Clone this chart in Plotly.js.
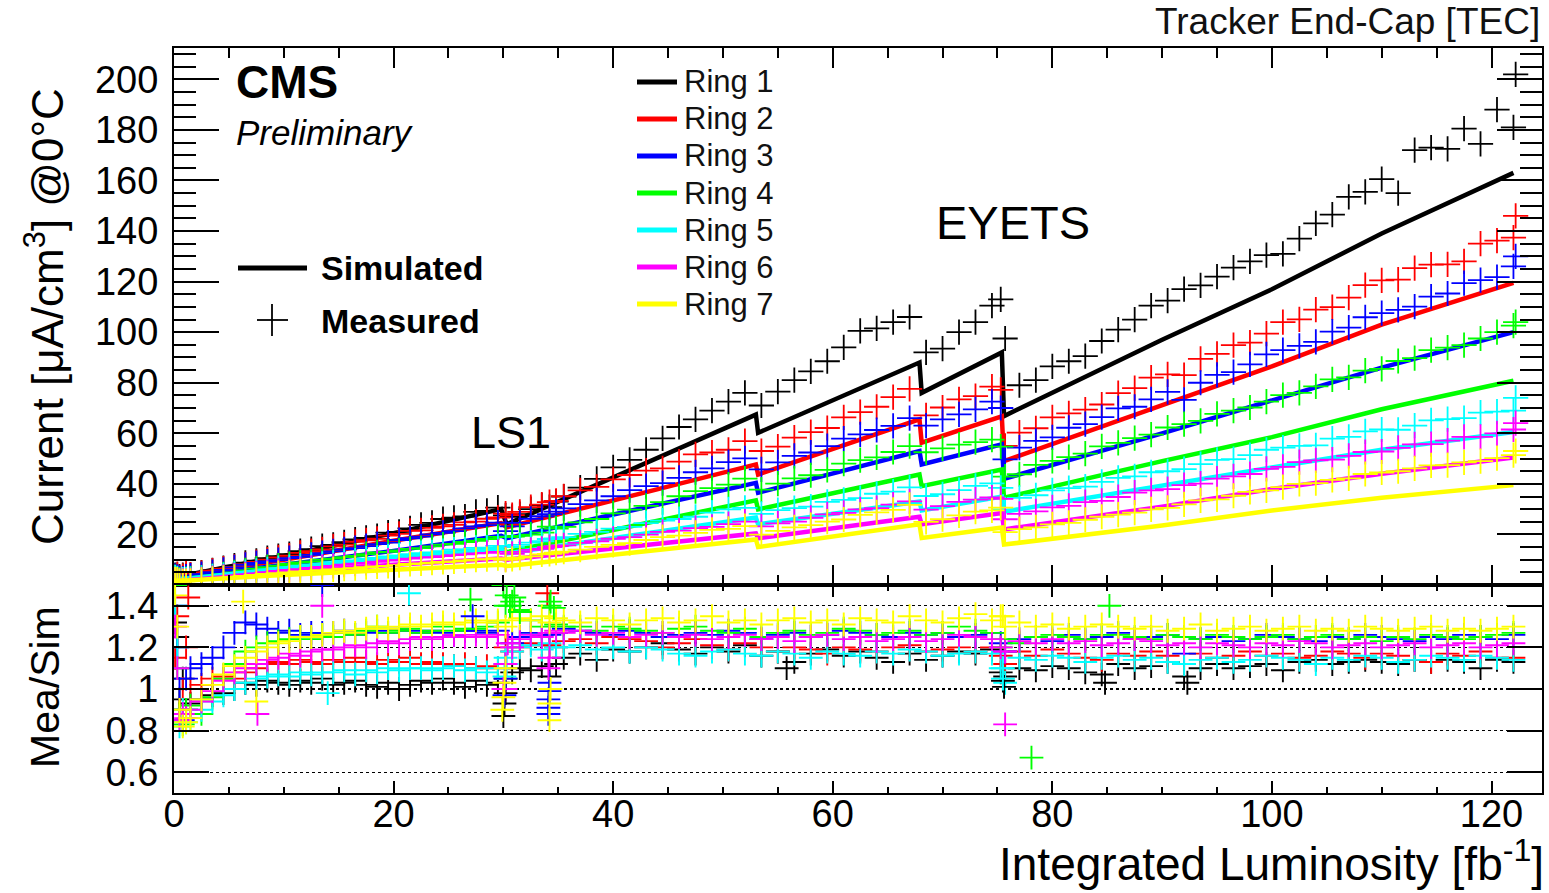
<!DOCTYPE html>
<html>
<head>
<meta charset="utf-8">
<script src="https://cdn.plot.ly/plotly-3.0.1.min.js"></script>
<style>html,body{margin:0;padding:0;background:#fff;}#chart{width:1549px;height:893px;}</style>
</head>
<body>
<div id="chart"></div>
<script>
// ---------------- data ----------------
const ringNames = ['Ring 1','Ring 2','Ring 3','Ring 4','Ring 5','Ring 6','Ring 7'];
const ringColors = ['#000000','#ff0000','#0000ff','#00ff00','#00ffff','#ff00ff','#ffff00'];

const lumiTicks = [0,20,40,60,80,100,120];
const currentTicks = [20,40,60,80,100,120,140,160,180,200];
const ratioTicks = [0.6,0.8,1,1.2,1.4];
const ratioTickText = ['0.6','0.8','1','1.2','1.4'];

// simulated leakage current (lines)
const simLumi  = [0, 10, 20, 29.8, 30.3, 53.0, 53.2, 67.9, 68.1, 75.4, 75.6, 90, 100, 110, 122];
const simRing1 = [3, 11.5, 20.5, 30, 24, 67.4, 60.2, 88, 76, 92, 66.8, 97, 117, 139, 163];
const simRing2 = [3, 10, 17.5, 24.5, 22.8, 47.7, 43.7, 65.5, 56.3, 66.7, 49, 71, 86.5, 103, 119.5];
const simRing3 = [2.5, 8, 13.5, 19.5, 18.5, 40.4, 36.5, 53, 47.7, 55.6, 42, 60, 73, 86, 100];
const simRing4 = [2, 6.5, 10.5, 14.5, 13, 33.5, 29.9, 43.7, 39.1, 45.7, 34.5, 49, 58.5, 69.5, 80.8];
const simRing5 = [2, 6.5, 10.5, 14.2, 12.5, 26.7, 24, 33, 29.5, 35, 29, 39.5, 46.5, 53.5, 60.5];
const simRing6 = [1.5, 5, 8, 10.5, 10, 20.4, 18.5, 27, 24, 28.5, 22, 31, 38, 44, 50.4];
const simRing7 = [1.5, 4, 6, 8, 7.5, 18, 15, 24, 18.6, 22.7, 16, 23.5, 29.5, 34.5, 39.5];

// measured points (crosses)
const meaLumi = [0.1,0.3,0.5,0.8,1.1,1.5,2.5,3.5,4.5,5.5,
 6.5,7.5,8.5,9.5,10.5,11.5,12.5,13.5,14.5,15.5,
 16.5,17.5,18.5,19.5,20.5,21.5,22.5,23.5,24.5,25.5,
 26.5,27.5,28.5,29.5,30.2,30.8,31.5,32.5,33.5,34.2,
 34.8,35.5,37,38.5,40,41.5,43,44.5,46,47.5,
 49,50.5,52,53.5,55,56.5,58,59.5,61,62.5,
 64,65.5,67,68.5,70,71.5,73,74.5,75.3,75.7,
 77,78.5,80,81.5,83,84.5,86,87.5,89,90.5,
 92,93.5,95,96.5,98,99.5,101,102.5,104,105.5,
 107,108.5,110,111.5,113,114.5,116,117.5,119,120.5,
 122];

const meaRing1 = [3.9,4.0,3.3,3.9,3.6,4.0,4.9,5.8,6.7,7.7,
 8.8,9.6,10.6,11.4,12.2,13.4,14.2,15.4,15.9,16.9,
 18.0,18.6,19.3,20.7,21.0,22.4,23.8,24.6,26.1,26.6,
 27.1,28.9,29.3,30.6,27.5,27.0,28.0,30.0,31.5,30.8,
 33.0,35.0,38.5,42.0,46.5,49.5,53.5,58.0,62.5,65.5,
 69.0,72.5,76.0,71.0,76.5,81.0,84.5,88.5,94.0,100.5,
 101.5,104.0,106.0,92.0,93.5,100.0,104.0,110.5,113.0,97.5,
 79.0,81.0,86.5,88.5,90.5,96.5,101.0,105.0,110.5,112.5,
 117.0,118.5,122.0,125.5,128.0,130.5,131.0,137.0,143.0,146.5,
 153.5,155.5,160.5,155.0,172.0,173.0,172.5,180.5,174.5,188.0,
 181.0];
const meaRing2 = [3.5,4.3,3.0,3.6,4.5,4.1,4.8,5.7,6.5,7.2,
 8.2,9.1,10.0,10.9,11.6,12.7,13.4,14.1,15.3,16.0,
 17.1,17.7,18.3,19.5,20.2,21.4,21.6,22.6,23.2,23.8,
 24.8,25.1,26.2,26.7,28.2,27.6,28.9,30.8,31.8,32.8,
 33.3,35.1,37.4,38.8,41.8,43.5,45.2,46.1,48.8,51.7,
 52.4,53.5,56.9,53.0,54.7,58.3,60.5,62.1,66.3,68.4,
 70.5,74.3,77.6,67.1,70.2,73.4,74.7,78.5,77.2,55.0,
 60.3,62.0,66.3,67.9,69.4,71.4,75.9,77.9,82.0,83.3,
 83.0,89.4,91.4,94.9,95.9,99.4,104.0,105.1,108.9,109.9,
 113.7,118.6,120.5,120.8,125.3,126.7,126.8,128.0,135.0,136.2,
 137.4];
const meaRing3 = [3.6,3.2,2.8,2.5,3.3,3.7,4.3,5.1,6.0,7.0,
 8.0,8.7,9.3,9.8,10.6,11.1,11.9,12.6,13.3,14.1,
 14.6,15.4,16.2,16.8,17.8,18.5,19.1,20.0,20.6,21.3,
 22.4,23.2,23.7,24.7,21.3,23.2,24.6,26.2,27.2,28.0,
 29.0,30.3,32.0,33.5,35.1,37.5,39.1,40.3,42.4,44.6,
 46.1,48.6,50.1,45.7,48.5,51.1,52.4,54.9,57.9,59.6,
 61.3,62.9,66.0,63.0,65.5,67.5,69.5,72.5,70.0,49.7,
 54.3,57.0,58.4,62.2,63.6,66.4,69.9,70.5,73.4,76.4,
 73.2,80.0,83.1,84.2,87.3,91.2,92.9,94.6,96.2,100.2,
 101.8,105.9,107.5,108.8,110.1,114.1,115.3,119.4,120.6,121.8,
 126.0];
const meaRing4 = [3.1,2.4,2.0,2.0,2.3,2.5,2.8,3.4,4.2,5.0,
 5.8,6.5,7.1,7.7,8.3,8.9,9.3,10.0,10.4,11.0,
 11.5,12.2,12.9,13.1,13.7,14.3,14.6,15.3,16.0,16.3,
 17.0,17.5,18.2,19.0,18.9,19.1,19.4,19.9,20.7,23.1,
 22.3,23.0,24.8,26.1,28.3,29.8,31.3,32.8,35.1,37.1,
 38.3,39.7,42.1,37.7,40.1,42.2,43.4,45.5,48.0,49.4,
 50.5,52.6,54.9,52.5,54.0,55.5,56.5,57.5,54.7,42.9,
 43.8,47.5,49.1,50.6,52.0,54.8,56.2,58.1,59.5,62.3,
 63.6,64.9,67.7,69.0,70.2,72.5,75.1,76.0,78.6,81.3,
 82.1,84.8,85.5,88.6,89.7,92.9,93.9,94.9,97.5,100.0,
 102.6];
const meaRing5 = [2.9,2.6,1.8,2.1,2.1,2.3,2.8,3.4,3.9,4.5,
 5.1,5.6,6.2,6.7,7.1,7.7,8.0,8.4,9.0,9.5,
 9.7,10.4,10.7,11.3,11.7,12.2,12.6,12.9,13.4,14.0,
 14.1,14.7,14.8,15.5,15.0,15.1,15.9,16.8,17.3,18.2,
 18.4,18.9,20.2,21.0,22.3,23.0,24.5,25.5,26.1,27.0,
 28.6,29.9,30.5,28.1,29.6,30.4,31.0,32.9,33.7,34.4,
 36.1,36.9,38.6,35.2,35.9,37.5,39.2,40.2,38.4,29.9,
 34.5,35.5,37.4,38.3,38.9,40.8,42.4,43.0,44.6,45.0,
 45.8,47.8,49.5,49.8,51.4,53.5,54.3,55.0,55.2,57.9,
 58.6,60.8,61.5,61.4,63.0,65.1,65.6,66.0,68.2,68.6,
 69.0];
const meaRing6 = [2.0,1.8,1.4,1.6,1.6,1.8,2.2,2.7,3.2,3.7,
 4.2,4.6,5.1,5.6,6.0,6.3,6.8,7.2,7.6,8.0,
 8.4,8.7,9.2,9.7,9.9,10.4,10.8,11.0,11.4,11.8,
 12.1,12.5,12.7,13.1,10.2,12.3,13.1,13.9,14.3,15.0,
 15.4,15.7,16.7,17.3,18.3,18.9,19.9,21.0,21.5,22.5,
 23.0,24.1,25.1,23.2,24.4,25.1,26.6,27.9,28.5,29.9,
 30.4,31.8,33.1,29.8,31.2,32.9,33.8,34.6,34.1,26.0,
 28.1,29.1,30.7,31.3,32.8,33.3,34.8,36.5,37.4,37.9,
 39.5,40.1,42.1,43.0,43.9,45.9,46.7,48.6,49.3,49.6,
 51.1,52.6,52.8,54.2,55.6,55.7,57.1,58.6,58.6,60.0,
 61.5];
const meaRing7 = [2.2,2.1,1.5,1.4,1.5,1.6,2.0,2.4,2.8,3.2,
 3.6,4.0,4.4,4.7,5.0,5.4,5.6,5.9,6.2,6.5,
 6.7,7.1,7.4,7.6,7.9,8.3,8.5,8.8,9.1,9.3,
 9.7,10.0,10.2,10.6,9.9,10.3,10.8,11.3,12.1,12.3,
 12.8,13.2,14.0,15.1,15.9,16.6,17.8,18.9,19.5,20.6,
 21.8,22.2,23.3,19.9,21.4,22.8,23.7,25.1,25.9,27.7,
 28.7,29.7,31.7,25.0,26.0,27.5,29.0,29.5,30.6,20.9,
 22.1,22.8,24.0,24.6,25.8,27.0,27.8,28.6,29.9,30.5,
 31.9,33.5,33.9,35.3,36.8,37.4,38.7,40.0,40.3,41.6,
 42.2,43.9,44.5,45.0,46.1,47.3,47.4,48.5,49.0,50.2,
 51.4];

// last, highest measured point of each ring
const topExtraLumi = 122.2;
const topExtraRing = [202, 146, 130, 104, 74, 64, 53];

// ratio measured / simulated
const ratioRing1 = [1.32,1.25,0.95,1.05,0.90,0.93,0.95,0.97,0.98,1.00,
 1.03,1.02,1.04,1.03,1.02,1.04,1.03,1.05,1.02,1.03,
 1.04,1.02,1.01,1.03,1.00,1.02,1.04,1.03,1.05,1.03,
 1.01,1.04,1.02,1.03,1.05,1.08,1.10,1.09,1.11,1.06,
 1.12,1.15,1.17,1.14,1.19,1.18,1.20,1.22,1.19,1.17,
 1.20,1.18,1.21,1.16,1.18,1.13,1.17,1.19,1.16,1.18,
 1.15,1.13,1.17,1.14,1.16,1.18,1.17,1.19,1.08,1.06,
 1.10,1.09,1.11,1.10,1.08,1.07,1.12,1.10,1.11,1.13,
 1.06,1.10,1.12,1.10,1.11,1.12,1.09,1.13,1.14,1.12,
 1.13,1.14,1.13,1.12,1.14,1.13,1.14,1.13,1.10,1.14,
 1.13];
const ratioRing2 = [1.15,1.35,0.90,1.00,1.20,1.00,1.02,1.05,1.06,1.05,
 1.08,1.10,1.12,1.13,1.12,1.14,1.13,1.12,1.14,1.13,
 1.15,1.13,1.12,1.14,1.13,1.15,1.12,1.13,1.12,1.11,
 1.12,1.10,1.11,1.10,1.20,1.18,1.20,1.22,1.21,1.21,
 1.20,1.23,1.24,1.22,1.25,1.24,1.23,1.20,1.22,1.24,
 1.21,1.19,1.22,1.20,1.18,1.20,1.19,1.17,1.20,1.19,
 1.18,1.20,1.21,1.18,1.19,1.20,1.18,1.20,1.16,1.12,
 1.18,1.16,1.19,1.17,1.15,1.14,1.17,1.16,1.18,1.16,
 1.12,1.17,1.15,1.16,1.18,1.16,1.17,1.15,1.16,1.18,
 1.17,1.15,1.17,1.16,1.14,1.13,1.17,1.16,1.18,1.15,
 1.15];
const ratioRing3 = [1.40,1.20,1.00,0.85,1.05,1.10,1.12,1.15,1.20,1.27,
 1.32,1.31,1.29,1.27,1.28,1.26,1.27,1.27,1.27,1.28,
 1.26,1.27,1.28,1.27,1.29,1.28,1.27,1.28,1.27,1.26,
 1.28,1.28,1.27,1.28,1.12,1.22,1.25,1.27,1.26,1.26,
 1.27,1.29,1.28,1.27,1.26,1.28,1.27,1.25,1.26,1.27,
 1.26,1.28,1.27,1.24,1.26,1.27,1.25,1.26,1.28,1.27,
 1.26,1.25,1.27,1.26,1.27,1.25,1.26,1.27,1.22,1.18,
 1.24,1.25,1.23,1.26,1.24,1.25,1.27,1.24,1.25,1.26,
 1.17,1.24,1.25,1.23,1.24,1.26,1.25,1.24,1.23,1.25,
 1.24,1.26,1.25,1.24,1.23,1.25,1.24,1.26,1.25,1.24,
 1.26];
const ratioRing4 = [1.50,1.10,0.88,0.83,0.90,0.92,0.88,0.96,1.05,1.12,
 1.18,1.20,1.22,1.23,1.24,1.25,1.24,1.26,1.25,1.27,
 1.26,1.28,1.30,1.27,1.28,1.29,1.27,1.28,1.30,1.28,
 1.29,1.29,1.30,1.32,1.40,1.42,1.38,1.33,1.30,1.40,
 1.31,1.30,1.30,1.28,1.30,1.29,1.28,1.27,1.29,1.30,
 1.28,1.27,1.29,1.25,1.27,1.28,1.26,1.27,1.29,1.28,
 1.26,1.27,1.28,1.26,1.27,1.30,1.28,1.27,1.20,1.24,
 1.22,1.25,1.26,1.25,1.24,1.26,1.26,1.25,1.24,1.26,
 1.25,1.24,1.26,1.25,1.24,1.25,1.26,1.24,1.25,1.26,
 1.24,1.25,1.23,1.25,1.24,1.26,1.25,1.24,1.25,1.26,
 1.27];
const ratioRing5 = [1.40,1.20,0.82,0.90,0.84,0.86,0.90,0.94,0.97,1.00,
 1.03,1.05,1.06,1.07,1.06,1.08,1.07,1.08,1.08,1.09,
 1.07,1.09,1.08,1.10,1.09,1.10,1.10,1.09,1.10,1.11,
 1.09,1.10,1.08,1.10,1.15,1.18,1.20,1.21,1.19,1.22,
 1.20,1.20,1.21,1.19,1.20,1.18,1.20,1.19,1.17,1.16,
 1.18,1.19,1.17,1.16,1.18,1.17,1.15,1.18,1.17,1.16,
 1.18,1.17,1.19,1.18,1.16,1.17,1.18,1.17,1.10,1.03,
 1.15,1.14,1.16,1.15,1.13,1.15,1.16,1.14,1.15,1.13,
 1.12,1.14,1.15,1.13,1.14,1.16,1.15,1.14,1.12,1.15,
 1.14,1.16,1.15,1.13,1.14,1.16,1.15,1.14,1.16,1.15,
 1.14];
const ratioRing6 = [1.30,1.10,0.85,0.88,0.86,0.90,0.94,0.99,1.04,1.08,
 1.10,1.12,1.14,1.15,1.17,1.16,1.18,1.19,1.19,1.20,
 1.21,1.20,1.22,1.23,1.22,1.24,1.25,1.24,1.25,1.26,
 1.25,1.26,1.25,1.26,1.00,1.20,1.24,1.26,1.25,1.27,
 1.28,1.27,1.28,1.26,1.27,1.25,1.26,1.27,1.25,1.26,
 1.24,1.25,1.26,1.24,1.25,1.23,1.25,1.26,1.24,1.25,
 1.23,1.24,1.25,1.23,1.24,1.26,1.25,1.24,1.20,1.18,
 1.23,1.22,1.24,1.22,1.23,1.21,1.22,1.24,1.23,1.21,
 1.22,1.20,1.22,1.21,1.20,1.22,1.21,1.23,1.22,1.20,
 1.21,1.22,1.20,1.21,1.22,1.20,1.21,1.22,1.20,1.21,
 1.22];
const ratioRing7 = [1.45,1.30,0.90,0.82,0.84,0.86,0.95,1.02,1.07,1.11,
 1.15,1.18,1.20,1.22,1.23,1.25,1.25,1.26,1.27,1.28,
 1.27,1.29,1.30,1.29,1.30,1.31,1.30,1.31,1.32,1.31,
 1.32,1.33,1.32,1.33,1.30,1.33,1.34,1.33,1.35,1.32,
 1.34,1.33,1.32,1.34,1.33,1.31,1.33,1.34,1.32,1.33,
 1.35,1.32,1.33,1.31,1.33,1.34,1.32,1.33,1.31,1.34,
 1.33,1.32,1.35,1.33,1.32,1.34,1.36,1.33,1.35,1.30,
 1.32,1.30,1.31,1.29,1.30,1.31,1.30,1.29,1.30,1.28,
 1.29,1.31,1.28,1.29,1.30,1.28,1.29,1.30,1.28,1.29,
 1.28,1.30,1.29,1.28,1.29,1.30,1.28,1.29,1.28,1.29,
 1.30];

// scattered ratio points (shutdown strips and outliers): ring number, luminosity, ratio
const outRing  = [1,1,1,1,1,1,1,1, 2,2, 3,3,3,3,3,3,3,3,3, 4,4,4,4,4,4,4,4,4,4, 5,5,5,5,5,5, 6,6,6,6,6,6,6,6, 7,7,7,7,7,7,7,7,7,7];
const outLumi  = [30.0,30.1,30.2,75.6,75.5,84.8,92.3,55.8, 1.3,34.0, 13.5,27.2,30.1,30.2,34.1,34.1,34.1,34.2,34.2,
                  27.0,30.0,30.3,30.6,31.0,31.5,34.3,34.6,78.1,85.2, 14.0,21.4,30.1,30.3,75.5,75.5,
                  7.6,13.5,30.0,30.2,30.4,34.1,34.2,75.7, 6.3,7.5,29.9,30.0,30.1,30.2,34.2,34.2,34.3,75.5];
const outRatio = [0.87,0.93,0.98,1.01,1.04,1.03,1.03,1.10, 1.44,1.46, 1.50,1.35,0.97,1.05,0.88,0.91,0.95,0.99,1.03,
                  1.43,1.50,1.45,1.40,1.44,1.37,1.42,1.39,0.67,1.40, 0.98,1.46,1.06,1.12,1.05,1.10,
                  0.88,1.40,1.00,1.12,1.22,1.10,1.15,0.83, 1.42,0.94,0.90,0.96,1.03,1.10,0.85,0.93,1.00,1.35];

// ---------------- drawing ----------------
const simRings = [simRing1,simRing2,simRing3,simRing4,simRing5,simRing6,simRing7];
const meaRings = [meaRing1,meaRing2,meaRing3,meaRing4,meaRing5,meaRing6,meaRing7];
const ratioRings = [ratioRing1,ratioRing2,ratioRing3,ratioRing4,ratioRing5,ratioRing6,ratioRing7];

const FONT = 'Liberation Sans, Arial, Helvetica, sans-serif';
const PL = 174, PR = 1542, PT = 48, PB = 793, SPLIT_PX = 585;
const px = p => (p - PL) / (PR - PL);
const py = p => (PB - p) / (PB - PT);
const split = py(SPLIT_PX);

const traces = [];
for (let i = 0; i < 7; i++) {
  traces.push({type:'scatter', mode:'lines', x: simLumi, y: simRings[i], xaxis:'x', yaxis:'y',
    line:{color: ringColors[i], width:4.5}, hoverinfo:'skip', showlegend:false});
  traces.push({type:'scatter', mode:'markers', x: meaLumi.concat([topExtraLumi]), y: meaRings[i].concat([topExtraRing[i]]),
    xaxis:'x', yaxis:'y', hoverinfo:'skip', showlegend:false,
    marker:{symbol:'cross-thin', size:18, color: ringColors[i], line:{color: ringColors[i], width:1.8}}});
}
for (let i = 0; i < 7; i++) {
  traces.push({type:'scatter', mode:'markers', x: meaLumi, y: ratioRings[i], xaxis:'x2', yaxis:'y2',
    hoverinfo:'skip', showlegend:false,
    marker:{symbol:'cross-thin', size:17, color: ringColors[i], line:{color: ringColors[i], width:1.9}}});
}
for (let i = 0; i < 7; i++) {
  const xs = [], ys = [];
  outRing.forEach((r, k) => { if (r === i + 1) { xs.push(outLumi[k]); ys.push(outRatio[k]); } });
  traces.push({type:'scatter', mode:'markers', x: xs, y: ys, xaxis:'x2', yaxis:'y2',
    hoverinfo:'skip', showlegend:false,
    marker:{symbol:'cross-thin', size:17, color: ringColors[i], line:{color: ringColors[i], width:1.9}}});
}

const axisCommon = {showline:true, linecolor:'#000', linewidth:2, mirror:'allticks', showgrid:false,
  zeroline:false, ticks:'inside', tickcolor:'#000', tickwidth:2, fixedrange:true,
  tickfont:{family:FONT, size:38, color:'#000'}};

const shapes = [];
const annotations = [];
// ring legend
for (let i = 0; i < 7; i++) {
  const yy = 82 + 37 * i;
  shapes.push({type:'line', xref:'paper', yref:'paper', x0:px(637), x1:px(677), y0:py(yy), y1:py(yy),
    line:{color: ringColors[i], width:5}});
  annotations.push({xref:'paper', yref:'paper', x:px(682), y:py(yy), xanchor:'left', yanchor:'middle',
    text: ringNames[i], showarrow:false, font:{family:FONT, size:31, color:'#111'}});
}
// simulated / measured legend
shapes.push({type:'line', xref:'paper', yref:'paper', x0:px(238), x1:px(307), y0:py(268), y1:py(268), line:{color:'#000', width:5}});
shapes.push({type:'line', xref:'paper', yref:'paper', x0:px(257), x1:px(288), y0:py(320), y1:py(320), line:{color:'#000', width:1.8}});
shapes.push({type:'line', xref:'paper', yref:'paper', x0:px(272), x1:px(272), y0:py(304), y1:py(336), line:{color:'#000', width:1.8}});
annotations.push({xref:'paper', yref:'paper', x:px(319), y:py(268), xanchor:'left', yanchor:'middle', showarrow:false,
  text:'<b>Simulated</b>', font:{family:FONT, size:34, color:'#000'}});
annotations.push({xref:'paper', yref:'paper', x:px(319), y:py(321), xanchor:'left', yanchor:'middle', showarrow:false,
  text:'<b>Measured</b>', font:{family:FONT, size:34, color:'#000'}});
// CMS labels
annotations.push({xref:'paper', yref:'paper', x:px(234), y:py(82), xanchor:'left', yanchor:'middle', showarrow:false,
  text:'<b>CMS</b>', font:{family:FONT, size:46, color:'#000'}});
annotations.push({xref:'paper', yref:'paper', x:px(234), y:py(133), xanchor:'left', yanchor:'middle', showarrow:false,
  text:'<i>Preliminary</i>', font:{family:FONT, size:35, color:'#000'}});
annotations.push({xref:'paper', yref:'paper', x:px(1542), y:py(22), xanchor:'right', yanchor:'middle', showarrow:false,
  text:'Tracker End-Cap [TEC]', font:{family:FONT, size:37, color:'#111'}});
annotations.push({xref:'paper', yref:'paper', x:px(511), y:py(432), xanchor:'center', yanchor:'middle', showarrow:false,
  text:'LS1', font:{family:FONT, size:45, color:'#000'}});
annotations.push({xref:'paper', yref:'paper', x:px(1013), y:py(222), xanchor:'center', yanchor:'middle', showarrow:false,
  text:'EYETS', font:{family:FONT, size:47, color:'#000'}});
// axis titles
annotations.push({xref:'paper', yref:'paper', x:px(45), y:py(317), xanchor:'center', yanchor:'middle', showarrow:false,
  textangle:-90, text:'Current [μA/cm<sup>3</sup>] @0°C', font:{family:FONT, size:44, color:'#000'}});
annotations.push({xref:'paper', yref:'paper', x:px(45), y:py(687), xanchor:'center', yanchor:'middle', showarrow:false,
  textangle:-90, text:'Mea/Sim', font:{family:FONT, size:41, color:'#000'}});
annotations.push({xref:'paper', yref:'paper', x:px(1546), y:py(861), xanchor:'right', yanchor:'middle', showarrow:false,
  text:'Integrated Luminosity [fb<sup>-1</sup>]', font:{family:FONT, size:46, color:'#000'}});

const layout = {
  width:1549, height:893,
  margin:{l:PL, r:1549-PR, t:PT, b:893-PB, pad:0},
  paper_bgcolor:'#ffffff', plot_bgcolor:'#ffffff',
  font:{family:FONT, color:'#000'},
  showlegend:false,
  xaxis: Object.assign({}, axisCommon, {domain:[0,1], anchor:'y', range:[0,124.6],
    tickmode:'array', tickvals:lumiTicks, showticklabels:false, ticklen:20,
    minor:{tickmode:'linear', tick0:0, dtick:5, ticks:'inside', ticklen:10, tickwidth:2, tickcolor:'#000', showgrid:false}}),
  yaxis: Object.assign({}, axisCommon, {domain:[split,1], anchor:'x', range:[0,212.4],
    tickmode:'array', tickvals:currentTicks, ticktext:currentTicks.map(String), ticklen:45, ticklabelstandoff:6,
    minor:{tickmode:'linear', tick0:0, dtick:5, ticks:'inside', ticklen:22, tickwidth:2, tickcolor:'#000', showgrid:false}}),
  xaxis2: Object.assign({}, axisCommon, {domain:[0,1], anchor:'y2', range:[0,124.6],
    tickmode:'array', tickvals:lumiTicks, ticktext:lumiTicks.map(String), ticklen:12, ticklabelstandoff:-14,
    minor:{tickmode:'linear', tick0:0, dtick:5, ticks:'inside', ticklen:6, tickwidth:2, tickcolor:'#000', showgrid:false}}),
  yaxis2: Object.assign({}, axisCommon, {domain:[0,split], anchor:'x2', range:[0.5,1.5],
    tickmode:'array', tickvals:ratioTicks, ticktext:ratioTickText, ticklen:35, ticklabelstandoff:6,
    showgrid:true, gridcolor:'#000', gridwidth:1.3, griddash:'dot'}),
  shapes: shapes,
  annotations: annotations
};

Plotly.newPlot('chart', traces, layout, {displayModeBar:false, staticPlot:true});
</script>
</body>
</html>
